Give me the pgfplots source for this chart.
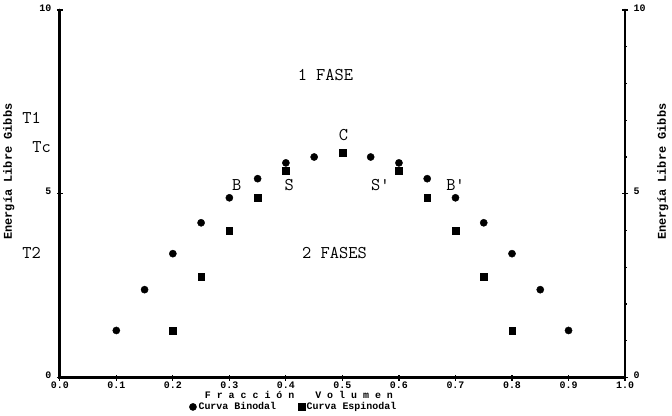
\documentclass[border=0pt]{standalone}
\usepackage{fontspec}
\setmainfont{Liberation Mono}
\usepackage{pgfplots}
\pgfplotsset{compat=1.18}
\newcommand{\lbl}{\ttfamily\fontsize{18}{18}\selectfont}
\begin{document}
\begin{tikzpicture}
\begin{axis}[name=ax, scale only axis, width=566bp, height=368bp,
  xmin=0, xmax=1, ymin=0, ymax=10,
  axis x line*=bottom, axis y line*=left,
  xtick={0,0.1,0.2,0.3,0.4,0.5,0.6,0.7,0.8,0.9,1},
  xticklabels={0.0,0.1,0.2,0.3,0.4,0.5,0.6,0.7,0.8,0.9,1.0},
  ytick={0,5,10}, minor ytick={1,2,3,4,6,7,8,9},
  tick align=center, major tick length=6bp, minor tick length=3bp,
  tick style={black, line width=1.2bp},
  tick label style={font=\bfseries\fontsize{10}{10}\selectfont},
  xticklabel style={yshift=2bp},
  yticklabel style={xshift=-2bp, yshift=2bp},
  /pgf/number format/assume math mode=true,
  clip=false,
  legend style={at={(axis cs:0.414,-0.8)}, anchor=center, draw=none, fill=none,
    legend columns=2, font=\bfseries\fontsize{10}{10}\selectfont,
    /tikz/every even column/.append style={column sep=20bp}},
  legend cell align=left,
]
\draw[line width=2.6bp, line cap=round] (rel axis cs:0,1) -- (rel axis cs:0,0) -- (rel axis cs:1,0) -- (rel axis cs:1,1);
\addplot[only marks, mark=*, mark size=3.6bp, black] coordinates {
(0.1,1.28) (0.15,2.39) (0.2,3.37) (0.25,4.21) (0.3,4.89) (0.35,5.41) (0.4,5.84) (0.45,6.0)
(0.55,6.0) (0.6,5.84) (0.65,5.41) (0.7,4.89) (0.75,4.21) (0.8,3.37) (0.85,2.39) (0.9,1.28)};
\addlegendentry{Curva Binodal}
\addplot[only marks, mark=square*, mark size=3.3bp, black] coordinates {
(0.2,1.28) (0.25,2.74) (0.3,3.99) (0.35,4.89) (0.4,5.63) (0.5,6.11)
(0.6,5.63) (0.65,4.89) (0.7,3.99) (0.75,2.74) (0.8,1.28)};
\addlegendentry{Curva Espinodal}
\node[font=\lbl] at (axis cs:0.47,8.23) {1 FASE};
\node[font=\lbl] at (axis cs:0.486,3.4) {2 FASES};
\node[font=\lbl] at (axis cs:0.502,6.6) {C};
\node[font=\lbl] at (axis cs:0.313,5.24) {B};
\node[font=\lbl] at (axis cs:0.406,5.24) {S};
\node[font=\lbl] at (axis cs:0.567,5.24) {S'};
\node[font=\lbl] at (axis cs:0.70,5.24) {B'};
\node[font=\lbl] at (axis cs:-0.05,7.07) {T1};
\node[font=\lbl] at (axis cs:-0.032,6.28) {Tc};
\node[font=\lbl] at (axis cs:-0.05,3.4) {T2};
\node[rotate=90, font=\bfseries\fontsize{12}{12}\selectfont] at (axis cs:-0.09,5.6) {Energía Libre Gibbs};
\node[rotate=90, font=\bfseries\fontsize{12}{12}\selectfont] at (axis cs:1.067,5.6) {Energía Libre Gibbs};
\node[font=\bfseries\fontsize{10}{10}\selectfont, inner sep=1bp] at (axis cs:0.423,-0.47) {F r a c c i ó n\hspace{2.1em}V o l u m e n};
\end{axis}
\begin{axis}[at={(ax.south west)}, anchor=south west, scale only axis, width=566bp, height=368bp,
  xmin=0, xmax=1, ymin=0, ymax=10,
  axis x line=none, axis y line*=right,
  ytick={0,5,10}, minor ytick={1,2,3,4,6,7,8,9},
  tick align=center, major tick length=6bp, minor tick length=3bp,
  tick style={black, line width=1.2bp},
  tick label style={font=\bfseries\fontsize{10}{10}\selectfont},
  yticklabel style={xshift=2bp, yshift=2bp},
  /pgf/number format/assume math mode=true,
]
\addplot[draw=none] coordinates {(0,0)};
\end{axis}
\path (ax.south west) +(-59bp,-37bp);
\path (ax.north east) +(47bp,10bp);
\end{tikzpicture}
\end{document}
